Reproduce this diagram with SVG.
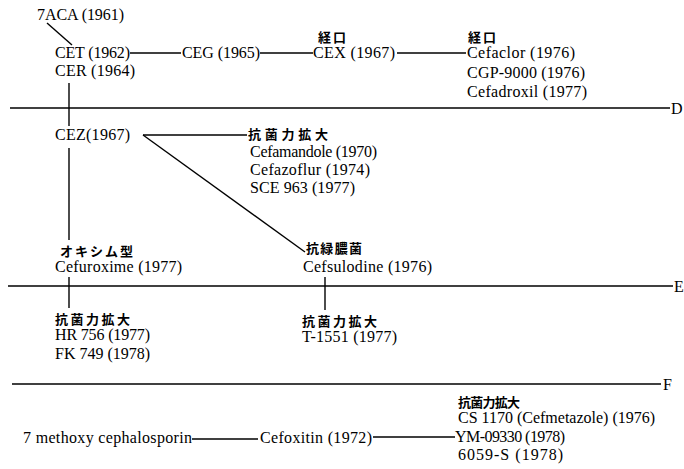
<svg xmlns="http://www.w3.org/2000/svg" width="684" height="469" viewBox="0 0 684 469">
<style>
text{fill:#000}
.t{font-family:"Liberation Serif","Times New Roman",serif;font-size:16px}
.j{font-family:"Noto Sans CJK JP","Noto Sans CJK SC",sans-serif;font-size:13px;font-weight:bold}
.l{stroke:#000;stroke-width:1.4;fill:none}
.d{stroke:#000;stroke-width:1.6;fill:none}
</style>
<rect width="684" height="469" fill="#fff"/>
<g id="connectors">
<line class="l" x1="47" y1="23" x2="72" y2="45"/>
<line class="l" x1="130" y1="53" x2="181" y2="53"/>
<line class="l" x1="260" y1="53" x2="313" y2="53"/>
<line class="l" x1="397" y1="53" x2="466" y2="53"/>
<line class="l" x1="69" y1="83" x2="69" y2="126"/>
<line class="l" x1="69" y1="148" x2="69" y2="240"/>
<line class="l" x1="143" y1="135" x2="247" y2="135"/>
<line class="l" x1="143" y1="135" x2="305" y2="252"/>
<line class="l" x1="69" y1="277" x2="69" y2="308"/>
<line class="l" x1="325" y1="277" x2="325" y2="310"/>
<line class="l" x1="192" y1="439" x2="258" y2="439"/>
<line class="l" x1="373" y1="437" x2="455" y2="437"/>
</g>
<g id="dividers">
<line class="d" x1="10" y1="108" x2="670" y2="108"/>
<text class="t" x="671" y="114">D</text>
<line class="d" x1="8" y1="286" x2="673" y2="286"/>
<text class="t" x="674" y="292">E</text>
<line class="d" x1="12" y1="384" x2="661" y2="384"/>
<text class="t" x="663" y="390">F</text>
</g>
<g id="n7aca"><text class="t" x="37" y="20" textLength="87" lengthAdjust="spacing">7ACA (1961)</text></g>
<g id="ncet">
<text class="t" x="55" y="58" textLength="75" lengthAdjust="spacing">CET (1962)</text>
<text class="t" x="55" y="76" textLength="80" lengthAdjust="spacing">CER (1964)</text>
</g>
<g id="nceg"><text class="t" x="182" y="58" textLength="78" lengthAdjust="spacing">CEG (1965)</text></g>
<g id="ncex">
<text class="j" x="318" y="42" textLength="28" lengthAdjust="spacing">経口</text>
<text class="t" x="313" y="58" textLength="82" lengthAdjust="spacing">CEX (1967)</text>
</g>
<g id="ncefaclor">
<text class="j" x="468" y="42" textLength="28" lengthAdjust="spacing">経口</text>
<text class="t" x="467" y="58" textLength="108" lengthAdjust="spacing">Cefaclor (1976)</text>
<text class="t" x="467" y="78" textLength="118" lengthAdjust="spacing">CGP-9000 (1976)</text>
<text class="t" x="467" y="97" textLength="120" lengthAdjust="spacing">Cefadroxil (1977)</text>
</g>
<g id="ncez"><text class="t" x="55" y="140" textLength="75" lengthAdjust="spacing">CEZ(1967)</text></g>
<g id="ncefamandole">
<text class="j" x="248" y="139" textLength="80" lengthAdjust="spacing">抗菌力拡大</text>
<text class="t" x="250" y="157" textLength="127" lengthAdjust="spacing">Cefamandole (1970)</text>
<text class="t" x="250" y="175" textLength="120" lengthAdjust="spacing">Cefazoflur (1974)</text>
<text class="t" x="250" y="193" textLength="105" lengthAdjust="spacing">SCE 963 (1977)</text>
</g>
<g id="ncefuroxime">
<text class="j" x="60" y="256" textLength="73" lengthAdjust="spacing">オキシム型</text>
<text class="t" x="55" y="272" textLength="127" lengthAdjust="spacing">Cefuroxime (1977)</text>
</g>
<g id="ncefsulodine">
<text class="j" x="306" y="253" textLength="56" lengthAdjust="spacing">抗緑膿菌</text>
<text class="t" x="303" y="272" textLength="129" lengthAdjust="spacing">Cefsulodine (1976)</text>
</g>
<g id="nhr756">
<text class="j" x="55" y="324" textLength="75" lengthAdjust="spacing">抗菌力拡大</text>
<text class="t" x="55" y="340" textLength="95" lengthAdjust="spacing">HR 756 (1977)</text>
<text class="t" x="55" y="359" textLength="95" lengthAdjust="spacing">FK 749 (1978)</text>
</g>
<g id="nt1551">
<text class="j" x="302" y="326" textLength="75" lengthAdjust="spacing">抗菌力拡大</text>
<text class="t" x="302" y="342" textLength="95" lengthAdjust="spacing">T-1551 (1977)</text>
</g>
<g id="nmethoxy"><text class="t" x="23" y="443" textLength="169" lengthAdjust="spacing">7 methoxy cephalosporin</text></g>
<g id="ncefoxitin"><text class="t" x="260" y="443" textLength="112" lengthAdjust="spacing">Cefoxitin (1972)</text></g>
<g id="ncs1170">
<text class="j" x="458" y="407" textLength="62" lengthAdjust="spacing">抗菌力拡大</text>
<text class="t" x="458" y="423" textLength="197" lengthAdjust="spacing">CS 1170 (Cefmetazole) (1976)</text>
<text class="t" x="455" y="442" textLength="110" lengthAdjust="spacing">YM-09330 (1978)</text>
<text class="t" x="458" y="460" textLength="105" lengthAdjust="spacing">6059-S (1978)</text>
</g>
</svg>
